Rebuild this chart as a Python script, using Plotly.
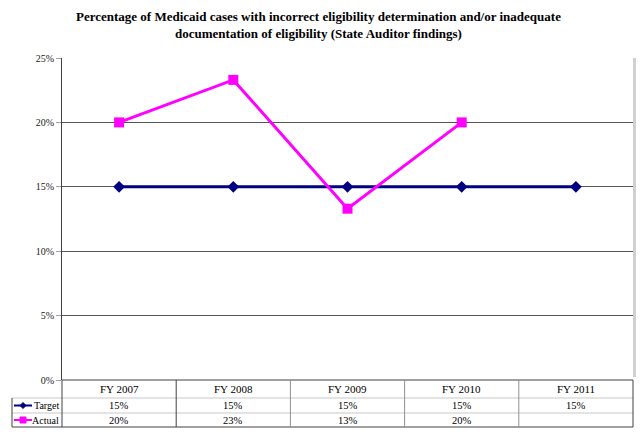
import plotly.graph_objects as go

categories = ["FY 2007", "FY 2008", "FY 2009", "FY 2010", "FY 2011"]
target = [15, 15, 15, 15, 15]
actual = [20, 23.3, 13.3, 20, None]
series_names = ["Target", "Actual"]
y_ticks = [0, 5, 10, 15, 20, 25]

W, H = 640, 436
L, R, T, B = 62, 633, 58, 380
PW, PH = R - L, B - T

def px(x):
    return (x - L) / PW

def py(y):
    return (B - y) / PH

NAVY = "#000080"
MAG = "#FF00FF"
FONT = "Liberation Serif"

fig = go.Figure()
fig.add_trace(go.Scatter(x=categories, y=target, name=series_names[0], mode="lines+markers",
                         line=dict(color=NAVY, width=3),
                         marker=dict(symbol="diamond", size=9, color=NAVY)))
fig.add_trace(go.Scatter(x=categories, y=actual, name=series_names[1], mode="lines+markers",
                         line=dict(color=MAG, width=3),
                         marker=dict(symbol="square", size=10, color=MAG)))

shapes = []
annotations = []

shapes.append(dict(type="rect", xref="paper", yref="paper", x0=px(633), x1=px(636), y0=py(377), y1=py(58),
                   fillcolor="#d0d0d0", line=dict(width=0), layer="below"))

row_lines = [398, 413]
row_centers = [405.5, 420]
row_bot = 427
ncol = len(categories)
colw = PW / ncol
dark = "#404040"
light = "#c8c8c8"

shapes.append(dict(type="line", xref="paper", yref="paper", x0=px(L), x1=px(R), y0=py(380), y1=py(380),
                   line=dict(color=dark, width=1)))
for yy in row_lines:
    shapes.append(dict(type="line", xref="paper", yref="paper", x0=px(12), x1=px(R), y0=py(yy), y1=py(yy),
                       line=dict(color=light, width=1)))
shapes.append(dict(type="line", xref="paper", yref="paper", x0=px(12), x1=px(R), y0=py(row_bot), y1=py(row_bot),
                   line=dict(color=dark, width=1)))
shapes.append(dict(type="line", xref="paper", yref="paper", x0=px(12), x1=px(12), y0=py(row_lines[0]), y1=py(row_bot),
                   line=dict(color=dark, width=1)))
for i in range(ncol + 1):
    xx = L + i * colw
    col = dark if i in (0, 1, ncol) else "#909090"
    shapes.append(dict(type="line", xref="paper", yref="paper", x0=px(xx), x1=px(xx), y0=py(380), y1=py(row_bot),
                       line=dict(color=col, width=1)))

for i, c in enumerate(categories):
    cx = L + (i + 0.5) * colw
    annotations.append(dict(x=px(cx), y=py(389), xref="paper", yref="paper", text=c, showarrow=False,
                            font=dict(family=FONT, size=11, color="#000000"), xanchor="center", yanchor="middle"))
    for r, vals in enumerate((target, actual)):
        v = vals[i]
        if v is None:
            continue
        annotations.append(dict(x=px(cx), y=py(row_centers[r]), xref="paper", yref="paper", text=f"{round(v)}%",
                                showarrow=False, font=dict(family=FONT, size=10.5, color="#000000"),
                                xanchor="center", yanchor="middle"))

for r, (nm, colr) in enumerate(zip(series_names, (NAVY, MAG))):
    yc = row_centers[r]
    shapes.append(dict(type="line", xref="paper", yref="paper", x0=px(14), x1=px(32), y0=py(yc), y1=py(yc),
                       line=dict(color=colr, width=2)))
    mx = 23
    if r == 0:
        path = f"M {px(mx-3)} {py(yc)} L {px(mx)} {py(yc-3)} L {px(mx+3)} {py(yc)} L {px(mx)} {py(yc+3)} Z"
        shapes.append(dict(type="path", xref="paper", yref="paper", path=path, fillcolor=colr,
                           line=dict(color=colr, width=1)))
    else:
        shapes.append(dict(type="rect", xref="paper", yref="paper", x0=px(mx-3), x1=px(mx+3),
                           y0=py(yc+3), y1=py(yc-3), fillcolor=colr, line=dict(color=colr, width=1)))
    annotations.append(dict(x=px(61), y=py(yc), xref="paper", yref="paper", text=nm, showarrow=False,
                            font=dict(family=FONT, size=10, color="#000000"), xanchor="right", yanchor="middle"))

annotations.append(dict(x=px(318), y=py(7), xref="paper", yref="paper",
                        text="<b>Percentage of Medicaid cases with incorrect eligibility determination and/or inadequate<br>documentation of eligibility (State Auditor findings)</b>",
                        showarrow=False, font=dict(family=FONT, size=13, color="#000000"),
                        xanchor="center", yanchor="top", align="center"))

fig.update_layout(
    width=W, height=H,
    margin=dict(l=L, r=W - R, t=T, b=H - B, pad=0),
    paper_bgcolor="white", plot_bgcolor="white",
    showlegend=False,
    shapes=shapes, annotations=annotations,
    xaxis=dict(type="category", range=[-0.5, ncol - 0.5], showticklabels=False, showgrid=False,
               zeroline=False, showline=False, ticks=""),
    yaxis=dict(range=[0, 25], tickmode="array", tickvals=y_ticks, ticktext=[f"{v}%" for v in y_ticks],
               showgrid=True, gridcolor="#555555",
               gridwidth=1, zeroline=False, showline=True, linecolor="#404040", linewidth=1,
               ticks="outside", ticklen=5, tickcolor="#a0a0a0",
               tickfont=dict(family=FONT, size=10, color="#202020")),
)

fig.write_html("out.html", config={"displayModeBar": False},
               post_script="document.body.style.margin='0';document.body.style.overflow='hidden';")
